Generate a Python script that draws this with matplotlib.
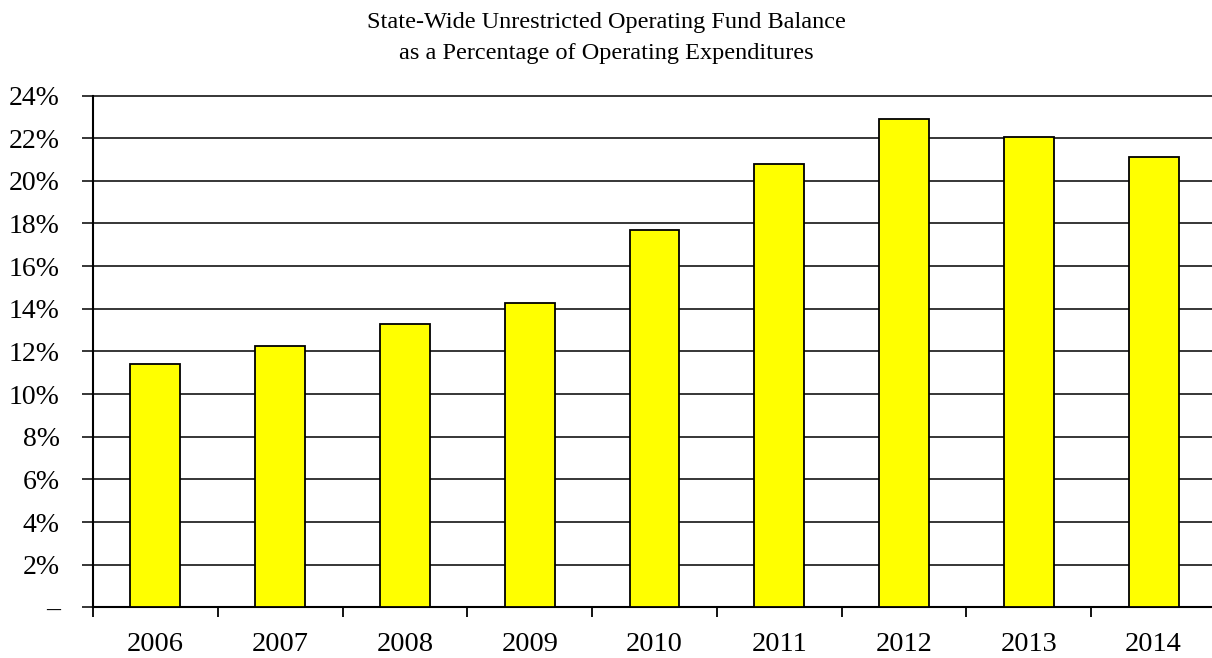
import matplotlib
matplotlib.use("Agg")
import matplotlib.pyplot as plt
import numpy as np

# 数据
years = ["2006", "2007", "2008", "2009", "2010", "2011", "2012", "2013", "2014"]
values = [11.40, 12.25, 13.28, 14.27, 17.69, 20.78, 22.88, 22.05, 21.13]
y_ticks = [0, 2, 4, 6, 8, 10, 12, 14, 16, 18, 20, 22, 24]
y_labels = ["–"] + [f"{t}%" for t in y_ticks[1:]]

plt.rcParams["font.family"] = ["Liberation Serif", "DejaVu Serif"]

fig = plt.figure(figsize=(12.12, 6.58), dpi=100)
W, H = 1212, 658
left, right, top, bottom = 93, 1216, 95.5, 607.3
ax = fig.add_axes([left / W, 1 - bottom / H, (right - left) / W, (bottom - top) / H])

x = np.arange(len(years))
ax.set_axisbelow(True)
ax.yaxis.grid(True, color="black", linewidth=1.1)
ax.bar(x, values, width=0.40, color="#FFFF00", edgecolor="black", linewidth=1.3, zorder=3)

ax.set_xlim(-0.5, len(years) - 0.5)
ax.set_ylim(0, 24)
ax.set_yticks(y_ticks)
ax.set_yticklabels(y_labels, fontsize=20)
ax.set_xticks(x)
ax.set_xticklabels(years, fontsize=20.5)
ax.tick_params(axis="x", length=0, pad=18)
ax.set_xticks(np.arange(len(years) + 1) - 0.5, minor=True)
ax.tick_params(axis="x", which="minor", length=7, width=1.3, direction="out")
ax.tick_params(axis="y", length=8, width=1.1, direction="out", pad=16)
for gl in ax.get_ygridlines():
    gl.set_clip_on(False)

for s in ["top", "right"]:
    ax.spines[s].set_visible(False)
for s in ["left", "bottom"]:
    ax.spines[s].set_linewidth(1.5)

fig.text(0.5, 1 - 12 / H,
         "State-Wide Unrestricted Operating Fund Balance\nas a Percentage of Operating Expenditures",
         ha="center", va="top", fontsize=17.5, linespacing=1.65)

fig.savefig("out.png", dpi=100)
